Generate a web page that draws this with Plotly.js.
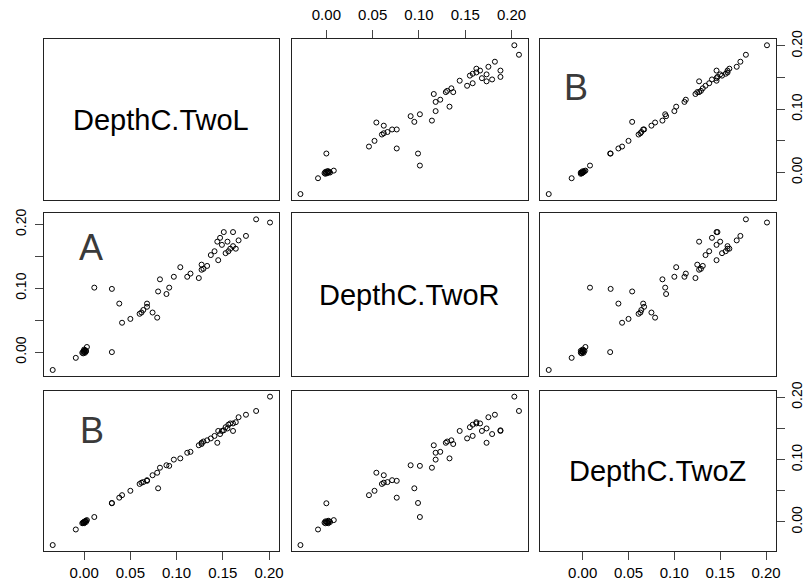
<!DOCTYPE html>
<html><head><meta charset="utf-8">
<script src="https://cdn.plot.ly/plotly-3.0.1.min.js"></script>
<style>html,body{margin:0;padding:0;background:#fff}#chart{width:804px;height:583px}</style>
</head><body><div id="chart"></div>
<script>
const varNames = ['DepthC.TwoL', 'DepthC.TwoR', 'DepthC.TwoZ'];
const depthL = [-0.034, -0.009, 0.000, -0.001, 0.001, 0.000, -0.002, 0.002, 0.001, -0.001, 0.000, 0.003, 0.002,
  0.011, 0.030, 0.030, 0.038, 0.041, 0.050, 0.060, 0.062, 0.064, 0.068, 0.068, 0.074, 0.079, 0.080,
  0.089, 0.092, 0.082, 0.097, 0.104, 0.1115, 0.115, 0.124, 0.127, 0.127, 0.129, 0.133, 0.137, 0.141,
  0.145, 0.144, 0.147, 0.149, 0.151, 0.153, 0.155, 0.156, 0.158, 0.161, 0.161, 0.164, 0.167, 0.175, 0.186, 0.201];
const depthR = [-0.028, -0.009, 0.000, 0.001, -0.001, 0.002, -0.001, 0.001, 0.003, -0.002, 0.004, 0.008, 0.002,
  0.101, 0.099, 0.000, 0.076, 0.046, 0.052, 0.060, 0.062, 0.066, 0.071, 0.076, 0.062, 0.054, 0.095,
  0.091, 0.101, 0.114, 0.118, 0.133, 0.118, 0.123, 0.116, 0.137, 0.129, 0.1305, 0.135, 0.152, 0.158,
  0.144, 0.173, 0.179, 0.168, 0.188, 0.155, 0.173, 0.158, 0.162, 0.188, 0.166, 0.162, 0.175, 0.182, 0.208, 0.203];
const depthZ = [-0.037, -0.012, 0.000, -0.001, 0.001, -0.002, -0.002, 0.000, 0.001, -0.001, 0.000, 0.003, 0.002,
  0.008, 0.0305, 0.030, 0.039, 0.043, 0.050, 0.061, 0.063, 0.064, 0.067, 0.066, 0.075, 0.079, 0.054,
  0.091, 0.090, 0.087, 0.100, 0.102, 0.111, 0.1125, 0.123, 0.125, 0.127, 0.129, 0.131, 0.134, 0.138,
  0.146, 0.127, 0.141, 0.146, 0.147, 0.152, 0.150, 0.156, 0.158, 0.146, 0.158, 0.160, 0.168, 0.172, 0.178, 0.201];
const tickVals = [0, 0.05, 0.10, 0.15, 0.20];
const tickTextX = ['0.00', '0.05', '0.10', '0.15', '0.20'];
const tickTextY = ['0.00', '', '0.10', '', '0.20'];
// letter drawn in each off-diagonal cell (row-major), '' = none
const cellLetters = ['', '', 'B', 'A', '', '', 'B', '', ''];

const vars = [depthL, depthR, depthZ];
function padRange(a) {
  const mn = Math.min(...a), mx = Math.max(...a), p = 0.04 * (mx - mn);
  return [mn - p, mx + p];
}
const ranges = vars.map(padRange);
const W = 804, H = 583;
const colPx = [[44, 278.7], [291.7, 527.7], [540, 775.7]];
const rowPx = [[39.3, 200], [213.3, 376], [390.7, 551]];
const colDom = colPx.map(c => [c[0] / W, c[1] / W]);
const rowDom = rowPx.map(r => [1 - r[1] / H, 1 - r[0] / H]);

const xTickFont = {family: 'Liberation Sans, Arial, sans-serif', size: 15, color: '#000'};
const yTickFont = {family: 'Liberation Sans, Arial, sans-serif', size: 14, color: '#000'};
const xTickSide = {'0,1': 'top', '2,0': 'bottom', '2,2': 'bottom'};
const yTickSide = {'0,2': 'right', '1,0': 'left', '2,2': 'right'};
const standoff = {top: 4, bottom: 0, left: 3, right: 0};
const letterPos = {'0,2': [0.095, 0.70], '1,0': [0.14, 0.79], '2,0': [0.145, 0.75]};

const traces = [];
const layout = {
  width: W, height: H, margin: {l: 0, r: 0, t: 0, b: 0},
  paper_bgcolor: '#fff', plot_bgcolor: '#fff', showlegend: false,
  annotations: []
};
for (let i = 0; i < 3; i++) {
  for (let j = 0; j < 3; j++) {
    const k = i * 3 + j + 1;
    const key = i + ',' + j;
    const xs = xTickSide[key], ys = yTickSide[key];
    const common = {showline: true, mirror: true, linecolor: '#222', linewidth: 1,
      showgrid: false, zeroline: false, fixedrange: true,
      tickvals: tickVals, ticklen: 8, tickwidth: 1, tickcolor: '#444'};
    const sx = xs || 'bottom', sy = ys || 'left';
    layout['xaxis' + (k === 1 ? '' : k)] = Object.assign({}, common, {
      domain: colDom[j], range: ranges[j], anchor: 'y' + (k === 1 ? '' : k),
      ticks: xs ? 'outside' : '', showticklabels: !!xs, side: sx, tickfont: xTickFont,
      ticktext: tickTextX, ticklabelstandoff: standoff[sx]
    });
    layout['yaxis' + (k === 1 ? '' : k)] = Object.assign({}, common, {
      domain: rowDom[i], range: ranges[i], anchor: 'x' + (k === 1 ? '' : k),
      ticks: ys ? 'outside' : '', showticklabels: !!ys, side: sy, tickfont: yTickFont,
      ticktext: tickTextY, tickangle: -90, ticklabelstandoff: standoff[sy]
    });
    const xr = 'x' + (k === 1 ? '' : k), yr = 'y' + (k === 1 ? '' : k);
    if (i === j) {
      traces.push({type: 'scatter', mode: 'markers', x: [null], y: [null], xaxis: xr, yaxis: yr,
        hoverinfo: 'skip'});
      layout.annotations.push({xref: xr + ' domain', yref: yr + ' domain', x: 0.5, y: 0.5,
        xanchor: 'center', yanchor: 'middle', showarrow: false, text: varNames[i],
        font: {family: 'Liberation Sans, Arial, sans-serif', size: 29, color: '#000'}});
    } else {
      traces.push({type: 'scatter', mode: 'markers', x: vars[j], y: vars[i], xaxis: xr, yaxis: yr,
        marker: {symbol: 'circle-open', size: 5, color: '#000', line: {width: 1, color: '#000'}},
        hoverinfo: 'skip', cliponaxis: false});
      const letter = cellLetters[k - 1];
      if (letter) {
        const p = letterPos[key];
        layout.annotations.push({xref: xr + ' domain', yref: yr + ' domain', x: p[0], y: p[1],
          xanchor: 'left', yanchor: 'middle', showarrow: false, text: letter,
          font: {family: 'Liberation Sans, Arial, sans-serif', size: 36, color: '#3a3a3a'}});
      }
    }
  }
}
Plotly.newPlot('chart', traces, layout, {staticPlot: true, displayModeBar: false});
</script>
</body></html>
